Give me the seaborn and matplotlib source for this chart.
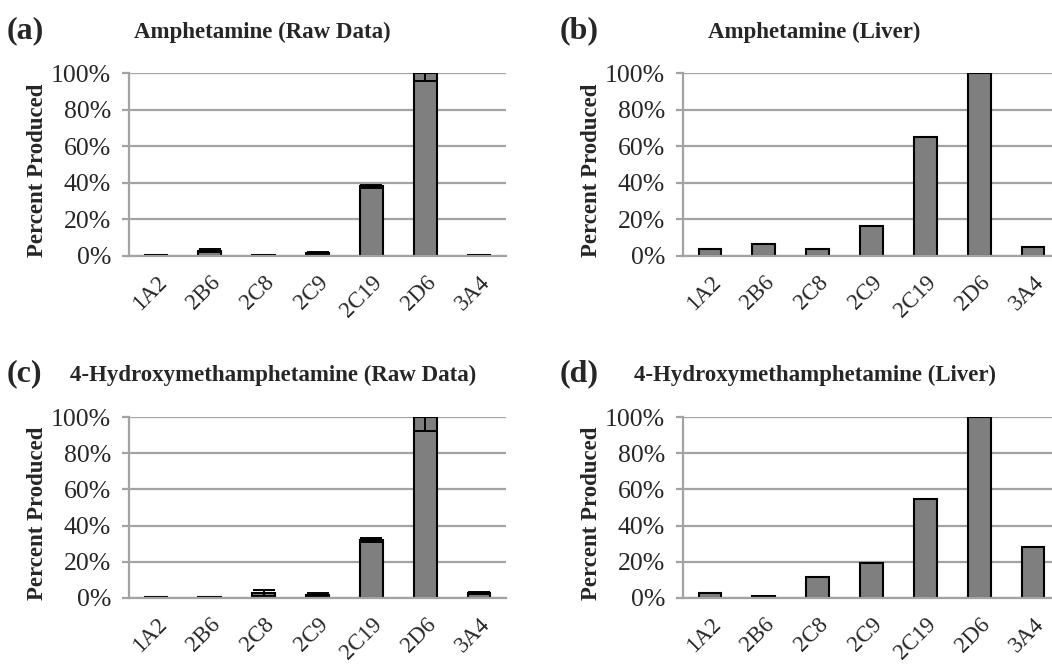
import numpy as np
import pandas as pd
import seaborn as sns
import matplotlib.pyplot as plt
from matplotlib.ticker import PercentFormatter

enzymes = ['1A2', '2B6', '2C8', '2C9', '2C19', '2D6', '3A4']

# fractions of the max (2D6 = 1.0)
amph_raw = [0.005, 0.03, 0.005, 0.018, 0.38, 1.0, 0.005]
amph_raw_err = [0.0, 0.01, 0.0, 0.005, 0.01, 0.045, 0.0]
amph_liver = [0.04, 0.068, 0.04, 0.164, 0.65, 1.0, 0.05]
hma_raw = [0.005, 0.005, 0.028, 0.018, 0.32, 1.0, 0.027]
hma_raw_err = [0.0, 0.0, 0.015, 0.01, 0.01, 0.077, 0.005]
hma_liver = [0.028, 0.01, 0.116, 0.193, 0.545, 1.0, 0.28]

titles = ['Amphetamine (Raw Data)', 'Amphetamine (Liver)',
          '4-Hydroxymethamphetamine (Raw Data)', '4-Hydroxymethamphetamine (Liver)']
letters = ['(a)', '(b)', '(c)', '(d)']

sns.set_style('white')
plt.rcParams['font.family'] = ['Liberation Serif', 'DejaVu Serif']

W, H = 1052, 665
fig = plt.figure(figsize=(W / 100, H / 100), dpi=100)

# axes boxes in pixels: left, top, right, bottom
boxes = [(129, 73, 506, 256), (683, 73, 1060, 256),
         (129, 417, 506, 598), (683, 417, 1060, 598)]
title_pos = [(262, 32), (814, 32), (273, 375), (815, 375)]
letter_pos = [(7, 31), (560, 31), (7, 374), (560, 374)]

series = [(amph_raw, amph_raw_err), (amph_liver, None),
          (hma_raw, hma_raw_err), (hma_liver, None)]

grid_col = '#a3a3a3'

for i, (vals, errs) in enumerate(series):
    l, t, r, b = boxes[i]
    ax = fig.add_axes([l / W, 1 - b / H, (r - l) / W, (b - t) / H])
    df = pd.DataFrame({'enzyme': enzymes, 'value': vals})
    sns.barplot(data=df, x='enzyme', y='value', color='#7f7f7f', saturation=1,
                edgecolor='black', linewidth=1.5, width=0.42, ax=ax)
    if errs is not None:
        ax.errorbar(np.arange(len(enzymes)), vals, yerr=errs, fmt='none',
                    ecolor='black', elinewidth=1.4, capsize=8, capthick=1.4)
    ax.set_ylim(0, 1)
    ax.set_xlim(-0.5, 6.5)
    ax.set_yticks([0, 0.2, 0.4, 0.6, 0.8, 1.0])
    ax.yaxis.set_major_formatter(PercentFormatter(1.0, decimals=0))
    ax.set_axisbelow(True)
    ax.yaxis.grid(True, color=grid_col, linewidth=1.6)
    for s in ['top', 'right']:
        ax.spines[s].set_visible(False)
    for s in ['left', 'bottom']:
        ax.spines[s].set_color(grid_col)
        ax.spines[s].set_linewidth(1.6)
    ax.tick_params(axis='y', left=True, length=5, width=1.6, color=grid_col,
                   labelsize=18.5, pad=8)
    ax.tick_params(axis='x', bottom=False, labelsize=16.5, pad=8)
    plt.setp(ax.get_xticklabels(), rotation=45, ha='right', rotation_mode='anchor')
    ax.set_xlabel('')
    ax.set_ylabel('Percent Produced', fontsize=16.5, fontweight='bold')
    ax.yaxis.set_label_coords(-0.215, 0.47)

    tx, ty = title_pos[i]
    fig.text(tx / W, 1 - ty / H, titles[i], ha='center', va='center',
             fontsize=16.5, fontweight='bold')
    lx, ly = letter_pos[i]
    fig.text(lx / W, 1 - ly / H, letters[i], ha='left', va='center',
             fontsize=23, fontweight='bold')

fig.savefig('out.png', dpi=100)
